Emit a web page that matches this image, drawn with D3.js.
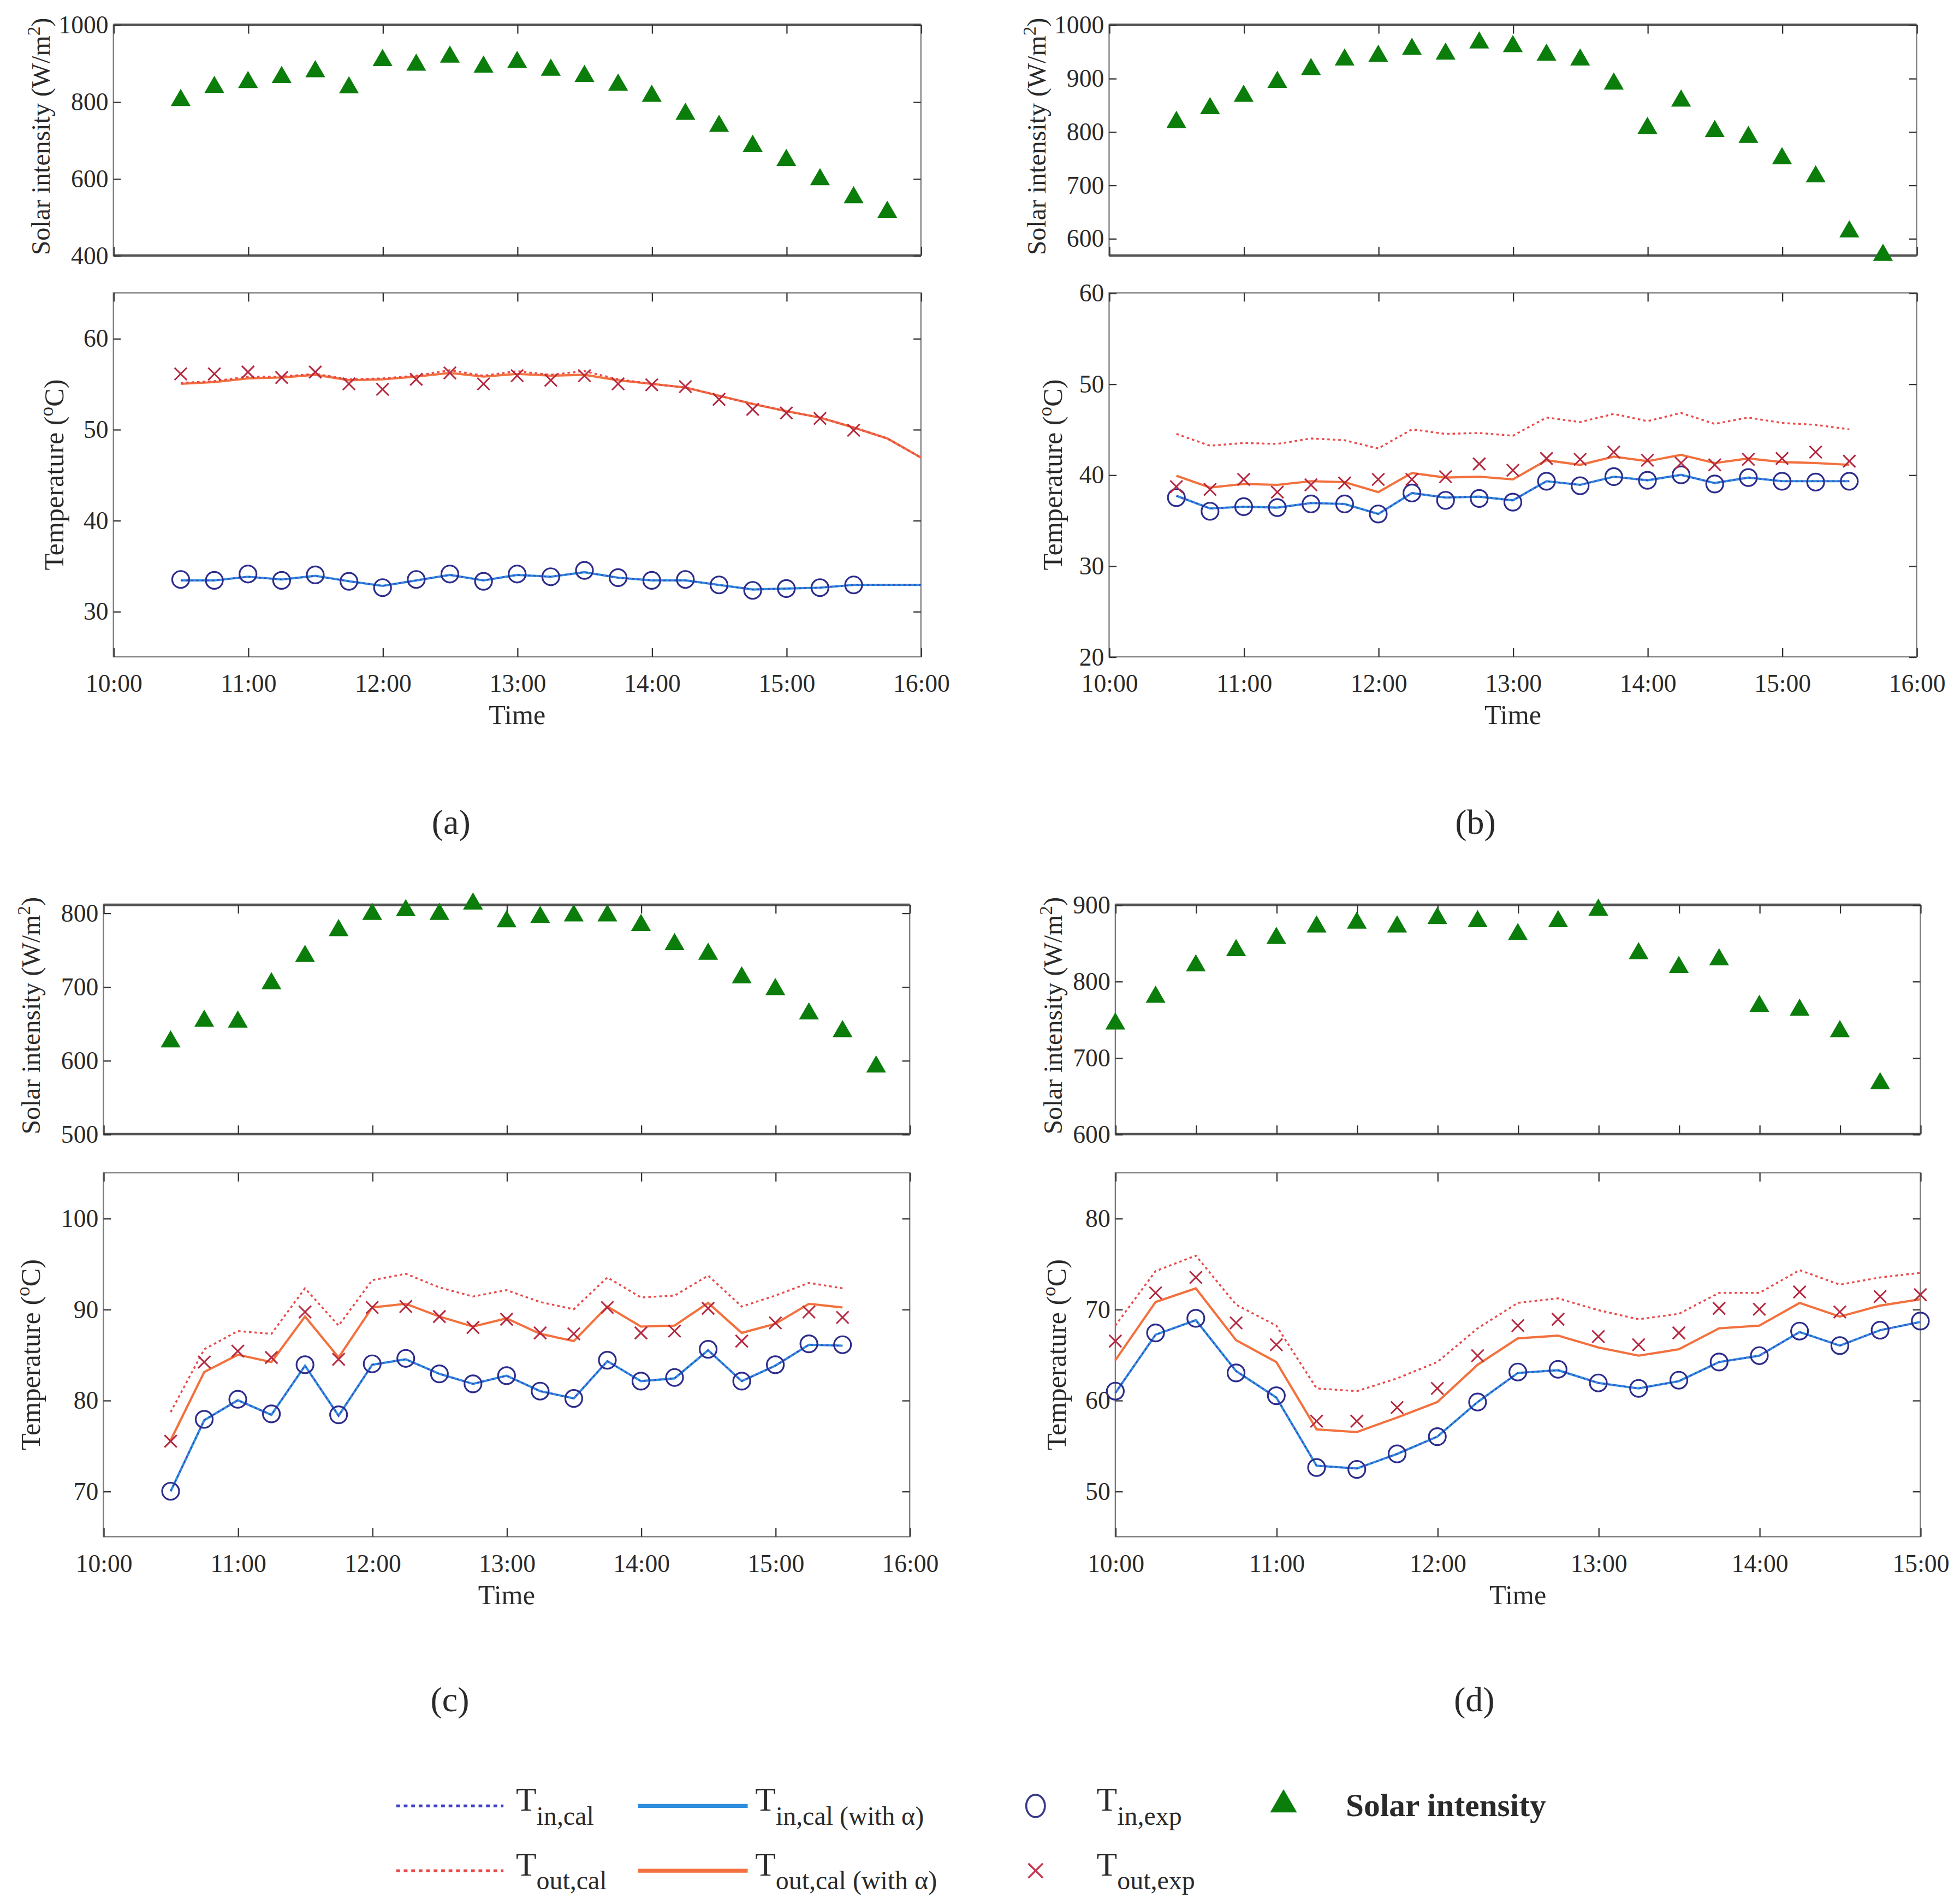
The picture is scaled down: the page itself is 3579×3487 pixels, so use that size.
<!DOCTYPE html>
<html>
<head>
<meta charset="utf-8">
<script src="https://cdn.jsdelivr.net/npm/d3@7"></script>
<style>
  body { margin: 0; background: #fff; }
  svg { display: block; }
  text { font-family: "Liberation Serif", "DejaVu Serif", serif; fill: #2a2a2a; }
</style>
</head>
<body>
<script>
// ---- data ----
// time stamps
const solarTimesABC = ["10:30","10:45","11:00","11:15","11:30","11:45","12:00","12:15","12:30","12:45","13:00",
  "13:15","13:30","13:45","14:00","14:15","14:30","14:45","15:00","15:15","15:30","15:45"];
const expTimesABC = ["10:30","10:45","11:00","11:15","11:30","11:45","12:00","12:15","12:30","12:45","13:00",
  "13:15","13:30","13:45","14:00","14:15","14:30","14:45","15:00","15:15","15:30"];
const calTimesA = ["10:30","10:45","11:00","11:15","11:30","11:45","12:00","12:15","12:30","12:45","13:00",
  "13:15","13:30","13:45","14:00","14:15","14:30","14:45","15:00","15:15","15:30","15:45","16:00"];
const solarTimesD = ["10:00","10:15","10:30","10:45","11:00","11:15","11:30","11:45","12:00","12:15","12:30",
  "12:45","13:00","13:15","13:30","13:45","14:00","14:15","14:30","14:45"];
const timesD = ["10:00","10:15","10:30","10:45","11:00","11:15","11:30","11:45","12:00","12:15","12:30",
  "12:45","13:00","13:15","13:30","13:45","14:00","14:15","14:30","14:45","15:00"];

// tick labels
const xTicksABC = ["10:00","11:00","12:00","13:00","14:00","15:00","16:00"];
const xTicksD = ["10:00","11:00","12:00","13:00","14:00","15:00"];
const xTicksDSolar = ["10:00","10:30","11:00","11:30","12:00","12:30","13:00","13:30","14:00","14:30","15:00"];
const yTicksSolarA = [400, 600, 800, 1000];
const yTicksSolarB = [600, 700, 800, 900, 1000];
const yTicksSolarC = [500, 600, 700, 800];
const yTicksSolarD = [600, 700, 800, 900];
const yTicksTempA = [30, 40, 50, 60];
const yTicksTempB = [20, 30, 40, 50, 60];
const yTicksTempC = [70, 80, 90, 100];
const yTicksTempD = [50, 60, 70, 80];

// (a)
const solarA = [807,841,854,867,882,840,911,899,920,894,906,886,870,847,818,771,740,688,651,601,554,516];
const tinExpA = [33.5,33.4,34.1,33.4,34.0,33.3,32.6,33.5,34.1,33.3,34.1,33.8,34.5,33.7,33.4,33.5,32.9,32.3,32.5,32.6,32.9];
const toutExpA = [56.1,56.1,56.3,55.7,56.3,55.0,54.4,55.5,56.2,55.0,55.9,55.4,55.9,55.0,54.9,54.7,53.3,52.2,51.8,51.2,49.9];
const tinCalA = [33.4,33.4,33.8,33.5,33.9,33.3,32.8,33.4,34.0,33.4,34.0,33.8,34.3,33.7,33.4,33.4,32.9,32.4,32.5,32.6,32.9,32.9,32.9];
const tinCalAlphaA = [33.4,33.4,33.8,33.5,33.9,33.3,32.8,33.4,34.0,33.4,34.0,33.8,34.3,33.7,33.4,33.4,32.9,32.4,32.5,32.6,32.9,32.9,32.9];
const toutCalA = [55.1,55.3,55.8,55.8,56.1,55.5,55.6,55.9,56.5,55.9,56.4,56.0,56.4,55.5,55.0,54.6,53.7,52.8,52.0,51.3,50.2,49.0,46.9];
const toutCalAlphaA = [55.0,55.2,55.6,55.7,56.0,55.4,55.5,55.8,56.2,55.8,56.1,55.9,56.0,55.4,55.0,54.6,53.7,52.8,52.0,51.3,50.2,49.0,46.9];

// (b)
const solarB = [820,846,869,895,919,937,944,957,948,969,962,946,937,892,809,860,803,792,752,718,615,571];
const tinExpB = [37.5,36.0,36.5,36.4,36.8,36.8,35.7,38.0,37.2,37.4,37.0,39.3,38.8,39.8,39.4,40.0,39.0,39.7,39.3,39.2,39.3];
const toutExpB = [38.7,38.4,39.5,38.1,38.9,39.1,39.5,39.5,39.8,41.2,40.5,41.8,41.7,42.5,41.6,41.3,41.1,41.7,41.8,42.5,41.5];
const tinCalB = [37.7,36.3,36.5,36.4,36.9,36.8,35.7,38.0,37.5,37.6,37.2,39.3,38.9,39.8,39.4,40.0,39.1,39.7,39.3,39.3,39.3];
const tinCalAlphaB = [37.7,36.3,36.5,36.4,36.9,36.8,35.7,38.0,37.5,37.6,37.2,39.3,38.9,39.8,39.4,40.0,39.1,39.7,39.3,39.3,39.3];
const toutCalB = [44.5,43.2,43.5,43.4,44.0,43.8,42.9,45.0,44.5,44.6,44.3,46.3,45.8,46.7,45.9,46.8,45.6,46.3,45.7,45.5,45.0];
const toutCalAlphaB = [39.9,38.6,39.0,38.9,39.3,39.2,38.1,40.2,39.7,39.8,39.5,41.6,41.1,42.0,41.5,42.2,41.3,41.8,41.4,41.3,41.1];

// (c)
const solarC = [627,655,654,706,743,778,800,805,800,814,790,796,798,798,785,759,746,714,698,665,641,593];
const tinExpC = [70.0,77.9,80.1,78.5,83.9,78.4,84.0,84.6,82.9,81.8,82.7,81.0,80.2,84.4,82.1,82.5,85.6,82.1,83.9,86.2,86.1];
const toutExpC = [75.5,84.2,85.4,84.7,89.7,84.5,90.2,90.3,89.2,88.0,88.9,87.4,87.3,90.2,87.4,87.6,90.1,86.5,88.5,89.7,89.1];
const tinCalC = [70.0,77.8,80.0,78.4,83.8,78.3,83.9,84.5,82.9,81.8,82.7,81.0,80.2,84.3,82.1,82.4,85.5,82.1,83.8,86.1,86.0];
const tinCalAlphaC = [70.0,77.8,80.0,78.4,83.8,78.3,83.9,84.5,82.9,81.8,82.7,81.0,80.2,84.3,82.1,82.4,85.5,82.1,83.8,86.1,86.0];
const toutCalC = [78.7,85.6,87.6,87.3,92.3,88.2,93.2,93.9,92.4,91.4,92.1,90.8,90.0,93.5,91.3,91.5,93.7,90.3,91.5,92.9,92.3];
const toutCalAlphaC = [75.6,83.1,85.0,84.2,89.2,84.7,90.2,90.6,89.2,88.1,89.0,87.3,86.5,90.3,88.1,88.2,90.7,87.4,88.4,90.6,90.2];

// (d)
const solarD = [746,781,822,842,858,873,878,873,884,880,863,880,895,838,820,830,769,764,736,668];
const tinExpD = [61.0,67.4,69.0,63.0,60.5,52.6,52.4,54.1,56.0,59.8,63.1,63.4,61.9,61.3,62.2,64.2,64.9,67.6,66.0,67.7,68.7];
const toutExpD = [66.5,71.8,73.5,68.5,66.1,57.7,57.7,59.2,61.3,64.9,68.2,68.9,67.0,66.1,67.4,70.1,70.0,71.9,69.7,71.4,71.6];
const tinCalD = [60.8,67.2,68.8,63.2,60.3,52.8,52.5,54.1,56.0,59.8,63.0,63.3,61.9,61.3,62.1,64.2,64.9,67.5,66.0,67.7,68.6];
const tinCalAlphaD = [60.8,67.2,68.8,63.2,60.3,52.8,52.5,54.1,56.0,59.8,63.0,63.3,61.9,61.3,62.1,64.2,64.9,67.5,66.0,67.7,68.6];
const toutCalD = [68.2,74.2,75.9,70.5,68.2,61.3,61.0,62.4,64.2,67.9,70.7,71.2,69.9,68.9,69.5,71.8,71.8,74.3,72.7,73.5,74.0];
const toutCalAlphaD = [64.4,70.8,72.3,66.6,64.2,56.8,56.5,58.1,59.8,63.9,66.8,67.1,65.8,64.9,65.6,67.9,68.2,70.7,69.2,70.4,71.1];

// ---- colours ----
const cSolar = "#0b7d0b";
const cTinExp = "#2c2c8c";
const cToutExp = "#b4283f";
const cTinCal = "#4040c4";
const cTinCalAlpha = "#2f8fde";
const cToutCal = "#e94a4a";
const cToutCalAlpha = "#f2713e";

const parseT = d3.timeParse("%H:%M");
const fmtT = d3.timeFormat("%H:%M");

// drawing units follow the 1568-wide layout, scaled up to the window
const svg = d3.select("body").append("svg")
  .attr("width", 3579)
  .attr("height", 3487)
  .attr("viewBox", "0 0 1568 1527.7");

const tickFont = 20;

function styleAxis(g) {
  g.attr("font-family", null).attr("font-size", null);
  g.select(".domain").remove();
  g.selectAll(".tick line").attr("stroke", "#333").attr("stroke-width", 1);
  g.selectAll(".tick text").attr("font-size", tickFont).attr("fill", "#2a2a2a");
}

function frame(g, x0, x1, y0, y1, heavy) {
  g.append("rect").attr("x", x0).attr("y", y0).attr("width", x1 - x0).attr("height", y1 - y0)
    .attr("fill", "none").attr("stroke", "#7a7a7a").attr("stroke-width", 1);
  if (heavy) {
    [y0, y1].forEach(yy => g.append("line").attr("x1", x0).attr("x2", x1).attr("y1", yy).attr("y2", yy)
      .attr("stroke", "#555").attr("stroke-width", 2));
  }
}

function rotLabel(g, cx, cy, size, parts) {
  const t = g.append("text")
    .attr("transform", `translate(${cx},${cy}) rotate(-90)`)
    .attr("text-anchor", "middle")
    .attr("font-size", size);
  parts.forEach(p => {
    const s = t.append("tspan").text(p.t);
    if (p.sup) s.attr("baseline-shift", "super").attr("font-size", size * 0.7);
  });
}

function solarPlot(p) {
  const g = svg.append("g");
  const x = d3.scaleTime().domain(p.xDomain.map(parseT)).range([p.x0, p.x1]);
  const y = d3.scaleLinear().domain(p.yDomain).range([p.y1, p.y0]);
  frame(g, p.x0, p.x1, p.y0, p.y1, true);
  g.append("g").attr("transform", `translate(${p.x0},0)`)
    .call(d3.axisLeft(y).tickValues(p.yTicks).tickSize(-6).tickPadding(4).tickFormat(d3.format("d")))
    .call(styleAxis);
  g.append("g").attr("transform", `translate(${p.x1},0)`)
    .call(d3.axisRight(y).tickValues(p.yTicks).tickSize(-6).tickFormat("")).call(styleAxis);
  const xt = p.xTicks.map(parseT);
  g.append("g").attr("transform", `translate(0,${p.y1})`)
    .call(d3.axisBottom(x).tickValues(xt).tickSize(-7).tickFormat("")).call(styleAxis);
  g.append("g").attr("transform", `translate(0,${p.y0})`)
    .call(d3.axisTop(x).tickValues(xt).tickSize(-7).tickFormat("")).call(styleAxis);

  g.selectAll("path.sun").data(p.values).enter().append("path")
    .attr("class", "sun")
    .attr("d", d3.symbol().type(d3.symbolTriangle).size(110))
    .attr("transform", (d, i) => `translate(${x(parseT(p.times[i]))},${y(d) + 1})`)
    .attr("fill", cSolar);

  rotLabel(g, p.labelX, (p.y0 + p.y1) / 2 - 3, 21,
    [{t: "Solar intensity (W/m"}, {t: "2", sup: true}, {t: ")"}]);
}

function tempPlot(p) {
  const g = svg.append("g");
  const x = d3.scaleTime().domain(p.xDomain.map(parseT)).range([p.x0, p.x1]);
  const y = d3.scaleLinear().domain(p.yDomain).range([p.y1, p.y0]);
  frame(g, p.x0, p.x1, p.y0, p.y1, false);
  g.append("g").attr("transform", `translate(${p.x0},0)`)
    .call(d3.axisLeft(y).tickValues(p.yTicks).tickSize(-6).tickPadding(4).tickFormat(d3.format("d")))
    .call(styleAxis);
  g.append("g").attr("transform", `translate(${p.x1},0)`)
    .call(d3.axisRight(y).tickValues(p.yTicks).tickSize(-6).tickFormat("")).call(styleAxis);
  const xt = p.xTicks.map(parseT);
  g.append("g").attr("transform", `translate(0,${p.y1})`)
    .call(d3.axisBottom(x).tickValues(xt).tickSize(-7).tickPadding(14).tickFormat(fmtT)).call(styleAxis);
  g.append("g").attr("transform", `translate(0,${p.y0})`)
    .call(d3.axisTop(x).tickValues(xt).tickSize(-7).tickFormat("")).call(styleAxis);

  const line = times => d3.line()
    .x((d, i) => x(parseT(times[i])))
    .y(d => y(d));

  g.append("path").datum(p.tinCalAlpha).attr("d", line(p.calTimes))
    .attr("fill", "none").attr("stroke", cTinCalAlpha).attr("stroke-width", 1.8);
  g.append("path").datum(p.tinCal).attr("d", line(p.calTimes))
    .attr("fill", "none").attr("stroke", cTinCal).attr("stroke-width", 1.1)
    .attr("stroke-dasharray", "1.6,2.6");
  g.append("path").datum(p.toutCalAlpha).attr("d", line(p.calTimes))
    .attr("fill", "none").attr("stroke", cToutCalAlpha).attr("stroke-width", 1.8);
  g.append("path").datum(p.toutCal).attr("d", line(p.calTimes))
    .attr("fill", "none").attr("stroke", cToutCal).attr("stroke-width", 1.5)
    .attr("stroke-dasharray", "2,2.4");

  g.selectAll("circle.tin").data(p.tinExp).enter().append("circle")
    .attr("class", "tin")
    .attr("cx", (d, i) => x(parseT(p.expTimes[i])))
    .attr("cy", d => y(d))
    .attr("r", 6.8)
    .attr("fill", "none").attr("stroke", cTinExp).attr("stroke-width", 1.4);

  g.selectAll("path.tout").data(p.toutExp).enter().append("path")
    .attr("class", "tout")
    .attr("d", d3.symbol().type(d3.symbolX).size(65))
    .attr("transform", (d, i) => `translate(${x(parseT(p.expTimes[i]))},${y(d)})`)
    .attr("fill", "none").attr("stroke", cToutExp).attr("stroke-width", 1.3);

  rotLabel(g, p.labelX, (p.y0 + p.y1) / 2, 22, [{t: "Temperature ("}, {t: "o", sup: true}, {t: "C)"}]);
  g.append("text").attr("x", (p.x0 + p.x1) / 2).attr("y", p.y1 + 54)
    .attr("text-anchor", "middle").attr("font-size", 22).text("Time");
}

// ---- panels ----
solarPlot({x0: 91, x1: 739, y0: 20, y1: 205, xDomain: ["10:00","16:00"], xTicks: xTicksABC,
  yDomain: [400, 1000], yTicks: yTicksSolarA, times: solarTimesABC, values: solarA, labelX: 40});
tempPlot({x0: 91, x1: 739, y0: 235, y1: 527, xDomain: ["10:00","16:00"], xTicks: xTicksABC,
  yDomain: [25, 65], yTicks: yTicksTempA, expTimes: expTimesABC, calTimes: calTimesA,
  tinExp: tinExpA, toutExp: toutExpA, tinCal: tinCalA, tinCalAlpha: tinCalAlphaA,
  toutCal: toutCalA, toutCalAlpha: toutCalAlphaA, labelX: 51});

solarPlot({x0: 890, x1: 1538, y0: 20, y1: 205, xDomain: ["10:00","16:00"], xTicks: xTicksABC,
  yDomain: [568, 1000], yTicks: yTicksSolarB, times: solarTimesABC, values: solarB, labelX: 839});
tempPlot({x0: 890, x1: 1538, y0: 235, y1: 527, xDomain: ["10:00","16:00"], xTicks: xTicksABC,
  yDomain: [20, 60], yTicks: yTicksTempB, expTimes: expTimesABC, calTimes: expTimesABC,
  tinExp: tinExpB, toutExp: toutExpB, tinCal: tinCalB, tinCalAlpha: tinCalAlphaB,
  toutCal: toutCalB, toutCalAlpha: toutCalAlphaB, labelX: 852});

solarPlot({x0: 83, x1: 730, y0: 726, y1: 910, xDomain: ["10:00","16:00"], xTicks: xTicksABC,
  yDomain: [500, 811], yTicks: yTicksSolarC, times: solarTimesABC, values: solarC, labelX: 32});
tempPlot({x0: 83, x1: 730, y0: 941, y1: 1233, xDomain: ["10:00","16:00"], xTicks: xTicksABC,
  yDomain: [65, 105], yTicks: yTicksTempC, expTimes: expTimesABC, calTimes: expTimesABC,
  tinExp: tinExpC, toutExp: toutExpC, tinCal: tinCalC, tinCalAlpha: tinCalAlphaC,
  toutCal: toutCalC, toutCalAlpha: toutCalAlphaC, labelX: 32});

solarPlot({x0: 895, x1: 1541, y0: 726, y1: 910, xDomain: ["10:00","15:00"], xTicks: xTicksDSolar,
  yDomain: [600, 900], yTicks: yTicksSolarD, times: solarTimesD, values: solarD, labelX: 852});
tempPlot({x0: 895, x1: 1541, y0: 941, y1: 1233, xDomain: ["10:00","15:00"], xTicks: xTicksD,
  yDomain: [45, 85], yTicks: yTicksTempD, expTimes: timesD, calTimes: timesD,
  tinExp: tinExpD, toutExp: toutExpD, tinCal: tinCalD, tinCalAlpha: tinCalAlphaD,
  toutCal: toutCalD, toutCalAlpha: toutCalAlphaD, labelX: 855});

// panel captions
const captions = [["(a)", 362, 669], ["(b)", 1184, 669], ["(c)", 361, 1373], ["(d)", 1183, 1373]];
svg.selectAll("text.cap").data(captions).enter().append("text")
  .attr("class", "cap")
  .attr("x", d => d[1]).attr("y", d => d[2])
  .attr("text-anchor", "middle").attr("font-size", 28).attr("fill", "#111")
  .text(d => d[0]);

// ---- legend ----
const leg = svg.append("g");
function legText(x, y, sub) {
  const t = leg.append("text").attr("x", x).attr("y", y + 4).attr("font-size", 27).attr("fill", "#111");
  t.append("tspan").text("T");
  t.append("tspan").attr("dy", 11).attr("font-size", 21).text(sub);
}
function legLine(x1, x2, y, color, dashed) {
  const l = leg.append("line").attr("x1", x1).attr("x2", x2).attr("y1", y).attr("y2", y)
    .attr("stroke", color).attr("stroke-width", dashed ? 2.2 : 3.2);
  if (dashed) l.attr("stroke-dasharray", "3,3");
}
const r1 = 1449, r2 = 1501;
legLine(318, 404, r1, cTinCal, true);
legText(414, r1, "in,cal");
legLine(512, 600, r1, cTinCalAlpha, false);
legText(606, r1, "in,cal (with \u03b1)");
leg.append("ellipse").attr("cx", 831).attr("cy", r1).attr("rx", 7.5).attr("ry", 9)
  .attr("fill", "none").attr("stroke", "#3a3a8a").attr("stroke-width", 1.6);
legText(880, r1, "in,exp");
leg.append("path").attr("d", d3.symbol().type(d3.symbolTriangle).size(200))
  .attr("transform", `translate(1030,${r1 - 1})`).attr("fill", cSolar);
leg.append("text").attr("x", 1080).attr("y", r1 + 8).attr("font-size", 26).attr("font-weight", "bold")
  .attr("fill", "#222").text("Solar intensity");

legLine(318, 404, r2, cToutCal, true);
legText(414, r2, "out,cal");
legLine(512, 600, r2, cToutCalAlpha, false);
legText(606, r2, "out,cal (with \u03b1)");
leg.append("path").attr("d", d3.symbol().type(d3.symbolX).size(90))
  .attr("transform", `translate(831,${r2})`).attr("fill", "none")
  .attr("stroke", "#c8344f").attr("stroke-width", 1.5);
legText(880, r2, "out,exp");
</script>
</body>
</html>
